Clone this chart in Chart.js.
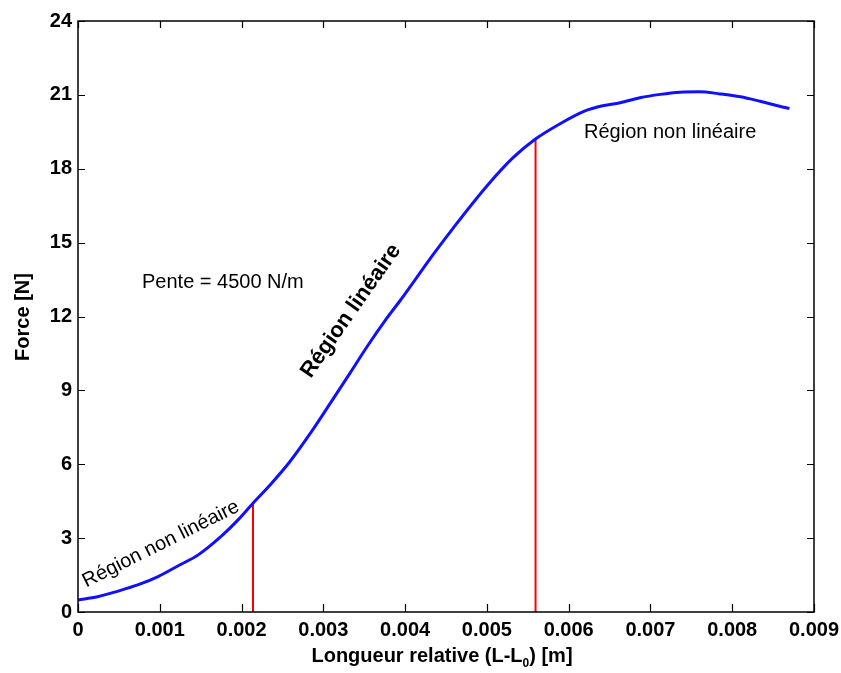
<!DOCTYPE html>
<html>
<head>
<meta charset="utf-8">
<script src="https://cdn.jsdelivr.net/npm/chart.js@4"></script>
<style>
html,body{margin:0;padding:0;background:#fff;}
#wrap{width:841px;height:673px;}
</style>
</head>
<body>
<div id="wrap"><canvas id="c" width="841" height="673"></canvas></div>
<script>
// Data
const lengthM = [0, 0.00024, 0.00049, 0.00073, 0.00098, 0.00122, 0.00147, 0.00176, 0.00196, 0.00214, 0.00236, 0.00259, 0.00284, 0.00308, 0.00333, 0.00353, 0.00377, 0.00394, 0.00406, 0.00434, 0.00459, 0.00500, 0.00532, 0.00559, 0.00589, 0.00620, 0.00640, 0.00663, 0.00687, 0.00712, 0.00736, 0.00760, 0.00785, 0.00810, 0.00834, 0.00858, 0.00870];
const forceN  = [0.49, 0.62, 0.85, 1.10, 1.44, 1.87, 2.32, 3.10, 3.75, 4.42, 5.20, 6.10, 7.25, 8.45, 9.72, 10.75, 11.90, 12.65, 13.20, 14.50, 15.60, 17.30, 18.45, 19.20, 19.82, 20.35, 20.55, 20.68, 20.88, 21.02, 21.11, 21.13, 21.04, 20.92, 20.74, 20.54, 20.45];
const markerX = [0.00214, 0.005595];
const markerTop = [4.42, 19.2];
const xTicks = [0, 0.001, 0.002, 0.003, 0.004, 0.005, 0.006, 0.007, 0.008, 0.009];
const yTicks = [0, 3, 6, 9, 12, 15, 18, 21, 24];
const xTitleMain = "Longueur relative (L-L";
const xTitleSub = "0";
const xTitleEnd = ") [m]";
const yTitle = "Force [N]";
const noteSlope = "Pente = 4500 N/m";
const noteLinear = "Région linéaire";
const noteNonLinear = "Région non linéaire";

const FONT = "'Liberation Sans', Arial, sans-serif";

const curve = lengthM.map((x, i) => ({x: x, y: forceN[i]}));
const redSets = markerX.map((x, i) => ({
  data: [{x: x, y: 0}, {x: x, y: markerTop[i]}],
  borderColor: '#ff0000', borderWidth: 2, pointRadius: 0, showLine: true, fill: false
}));

const decor = {
  id: 'decor',
  afterDraw(chart) {
    const ctx = chart.ctx, a = chart.chartArea;
    const xs = chart.scales.x, ys = chart.scales.y;
    ctx.save();
    ctx.strokeStyle = '#000';
    ctx.lineWidth = 1.5;
    ctx.strokeRect(a.left, a.top, a.right - a.left, a.bottom - a.top);
    ctx.lineWidth = 1.2;
    ctx.beginPath();
    xTicks.forEach(v => {
      const px = Math.round(xs.getPixelForValue(v)) + 0.5;
      ctx.moveTo(px, a.bottom); ctx.lineTo(px, a.bottom - 8);
      ctx.moveTo(px, a.top); ctx.lineTo(px, a.top + 7);
    });
    yTicks.forEach(v => {
      const py = Math.round(ys.getPixelForValue(v)) + 0.5;
      ctx.moveTo(a.left, py); ctx.lineTo(a.left + 7, py);
      ctx.moveTo(a.right, py); ctx.lineTo(a.right - 7, py);
    });
    ctx.stroke();

    ctx.fillStyle = '#000';
    // y title
    ctx.save();
    ctx.translate(23, 317);
    ctx.rotate(-Math.PI / 2);
    ctx.font = 'bold 20px ' + FONT;
    ctx.textAlign = 'center';
    ctx.textBaseline = 'middle';
    ctx.fillText(yTitle, 0, 0);
    ctx.restore();

    // x title with subscript
    ctx.font = 'bold 20px ' + FONT;
    ctx.textAlign = 'left';
    ctx.textBaseline = 'alphabetic';
    const w1 = ctx.measureText(xTitleMain).width;
    ctx.font = 'bold 12px ' + FONT;
    const w2 = ctx.measureText(xTitleSub).width;
    ctx.font = 'bold 20px ' + FONT;
    const w3 = ctx.measureText(xTitleEnd).width;
    let x0 = 442 - (w1 + w2 + w3) / 2;
    const by = 662;
    ctx.fillText(xTitleMain, x0, by);
    ctx.font = 'bold 12px ' + FONT;
    ctx.fillText(xTitleSub, x0 + w1, by + 5);
    ctx.font = 'bold 20px ' + FONT;
    ctx.fillText(xTitleEnd, x0 + w1 + w2, by);

    // annotations
    ctx.font = '20px ' + FONT;
    ctx.fillText(noteSlope, 142, 288);
    ctx.fillText(noteNonLinear, 584, 138);

    ctx.save();
    ctx.translate(161, 544);
    ctx.rotate(-26.5 * Math.PI / 180);
    ctx.textAlign = 'center';
    ctx.textBaseline = 'middle';
    ctx.font = '20px ' + FONT;
    ctx.fillText(noteNonLinear, 0, 0);
    ctx.restore();

    ctx.save();
    ctx.translate(351, 311);
    ctx.rotate(-55 * Math.PI / 180);
    ctx.textAlign = 'center';
    ctx.textBaseline = 'middle';
    ctx.font = 'bold 22px ' + FONT;
    ctx.fillText(noteLinear, 0, 0);
    ctx.restore();

    ctx.restore();
  }
};

new Chart(document.getElementById('c'), {
  type: 'scatter',
  data: {
    datasets: [
      {
        data: curve, borderColor: '#1010ff', backgroundColor: '#1010ff',
        borderWidth: 3, pointRadius: 0, showLine: true, fill: false,
        cubicInterpolationMode: 'monotone'
      },
      ...redSets
    ]
  },
  options: {
    responsive: false,
    animation: false,
    layout: {padding: {top: 21, right: 27, left: 0, bottom: 0}},
    plugins: {legend: {display: false}, tooltip: {enabled: false}},
    scales: {
      x: {
        type: 'linear', min: 0, max: 0.009,
        grid: {display: false, drawTicks: false},
        border: {display: false},
        afterBuildTicks: s => { s.ticks = xTicks.map(v => ({value: v})); },
        afterFit: s => { s.height = 61; s.paddingRight = 0; s.paddingLeft = 0; },
        ticks: {
          padding: 6, color: '#000', maxRotation: 0, autoSkip: false,
          font: {family: FONT, size: 20, weight: 'bold'},
          callback: v => v === 0 ? '0' : Number(v).toFixed(3)
        }
      },
      y: {
        type: 'linear', min: 0, max: 24,
        grid: {display: false, drawTicks: false},
        border: {display: false},
        afterBuildTicks: s => { s.ticks = yTicks.map(v => ({value: v})); },
        afterFit: s => { s.width = 78; s.paddingTop = 0; s.paddingBottom = 0; },
        ticks: {
          padding: 6, color: '#000', autoSkip: false,
          font: {family: FONT, size: 20, weight: 'bold'},
          callback: v => String(v)
        }
      }
    }
  },
  plugins: [decor]
});
</script>
</body>
</html>
